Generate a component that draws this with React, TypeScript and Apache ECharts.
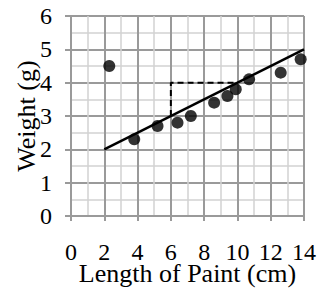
import React, { useEffect, useRef } from "react";
import * as echarts from "echarts";

const lengths = [2.3, 3.8, 5.2, 6.4, 7.2, 8.6, 9.4, 9.9, 10.7, 12.6, 13.8];
const weights = [4.5, 2.3, 2.7, 2.8, 3.0, 3.4, 3.6, 3.8, 4.1, 4.3, 4.7];
const fitX = [2, 14];
const fitY = [2, 5];
const slopeX = [6, 6, 10];
const slopeY = [3, 4, 4];

const FONT = "'Liberation Serif', 'Times New Roman', serif";

export default function App() {
  const ref = useRef<HTMLDivElement>(null);
  useEffect(() => {
    if (!ref.current) return;
    const chart = echarts.init(ref.current, null, { renderer: "svg" });
    const major = "#9a9a9a";
    const minor = "#d2d2d2";
    chart.setOption({
      animation: false,
      grid: { left: 71, right: 27, top: 16, bottom: 72, containLabel: false, outerBoundsMode: "none" },
      xAxis: {
        type: "value",
        min: 0,
        max: 14,
        interval: 2,
        name: "Length of Paint (cm)",
        nameLocation: "middle",
        nameGap: 46,
        nameMoveOverlap: false,
        nameTextStyle: { fontFamily: FONT, fontSize: 26, lineHeight: 22, color: "#000" },
        axisLine: { show: true, lineStyle: { color: major, width: 2 } },
        axisTick: { show: true, length: 5, lineStyle: { color: major, width: 2 } },
        axisLabel: { fontFamily: FONT, fontSize: 24, lineHeight: 19, color: "#000", margin: 26 },
        splitLine: { show: true, lineStyle: { color: major, width: 2 } },
        minorTick: { show: false, splitNumber: 2 },
        minorSplitLine: { show: true, lineStyle: { color: minor, width: 1.5 } },
      },
      yAxis: {
        type: "value",
        min: 0,
        max: 6,
        interval: 1,
        name: "Weight (g)",
        nameLocation: "middle",
        nameGap: 32,
        nameMoveOverlap: false,
        nameTextStyle: { fontFamily: FONT, fontSize: 26, color: "#000" },
        axisLine: { show: true, lineStyle: { color: major, width: 2 } },
        axisTick: { show: true, length: 6, lineStyle: { color: major, width: 2 } },
        axisLabel: { fontFamily: FONT, fontSize: 24, color: "#000", margin: 19 },
        splitLine: { show: true, lineStyle: { color: major, width: 2 } },
        minorTick: { show: false, splitNumber: 2 },
        minorSplitLine: { show: true, lineStyle: { color: minor, width: 1.5 } },
      },
      series: [
        {
          type: "line",
          data: fitX.map((x, i) => [x, fitY[i]]),
          showSymbol: false,
          symbol: "none",
          lineStyle: { color: "#000", width: 2.5 },
          z: 3,
        },
        {
          type: "line",
          data: slopeX.map((x, i) => [x, slopeY[i]]),
          showSymbol: false,
          symbol: "none",
          lineStyle: { color: "#000", width: 2, type: [6, 4] },
          z: 3,
        },
        {
          type: "scatter",
          data: lengths.map((x, i) => [x, weights[i]]),
          symbol: "circle",
          symbolSize: 12,
          itemStyle: { color: "#000" },
          z: 4,
        },
      ],
    });
    return () => chart.dispose();
  }, []);
  return <div ref={ref} style={{ width: 331, height: 288, position: "absolute", left: 0, top: 0 }} />;
}
